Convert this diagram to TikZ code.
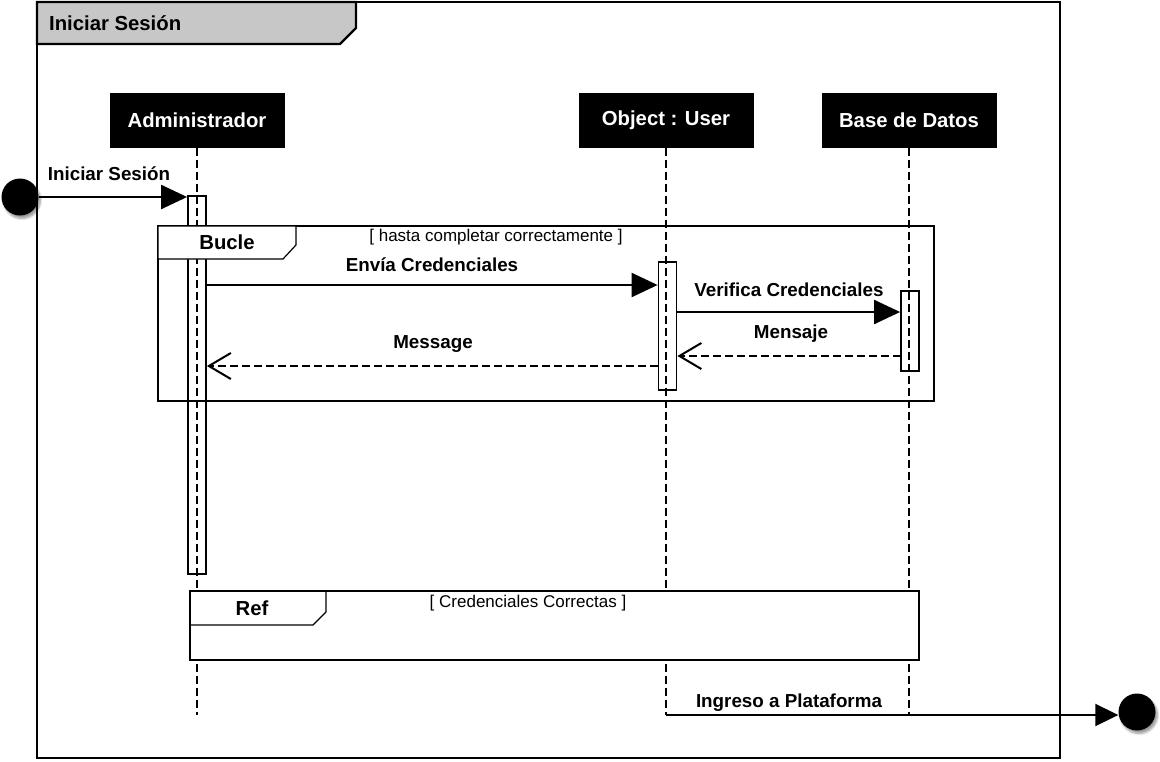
\documentclass[tikz,border=0pt]{standalone}
\usepackage{fontspec}
\setmainfont{Liberation Sans}
\usepackage{tikz}
\usetikzlibrary{arrows.meta}
\usetikzlibrary{shadows.blur}
\usetikzlibrary{positioning}
\tikzstyle{actor}=[draw=black,fill=black,text=white,inner sep=0,minimum width=174,minimum height=54,font=\fontsize{20.3}{23}\selectfont\bfseries]
\tikzstyle{life}=[draw,line width=2.4,dash pattern=on 8 off 4]
\tikzstyle{bar}=[draw,line width=1.8,rectangle,inner sep=0,minimum width=18]
\tikzstyle{msg}=[font=\fontsize{18.8}{21}\selectfont\bfseries,inner sep=0]
\tikzstyle{guard}=[font=\fontsize{17}{19}\selectfont,inner sep=0]
\tikzstyle{call}=[draw,line width=2.2,-{Triangle[length=26,width=24]}]
\tikzstyle{reply}=[draw,line width=2,dash pattern=on 8 off 4,-{Straight Barb[length=22,width=26,line width=2]}]
\tikzstyle{frag}=[draw,line width=1.2]
\tikzstyle{dot}=[circle,fill=black,minimum size=37,inner sep=0,blur shadow={shadow xshift=2,shadow yshift=-3,shadow blur steps=6}]

\begin{document}
\begin{tikzpicture}[x=1pt,y=-1pt]
\useasboundingbox (0,0) rectangle (1160,761);

	% marco
	\draw[line width=2.2] (37,2) rectangle (1060,758);
	\path[draw,line width=2.2,fill=black!22] (37,2) -- (356,2) -- (356,28) -- (340,44) -- (37,44) -- cycle;
	\node[font=\fontsize{20.3}{23}\selectfont\bfseries,anchor=west,inner sep=0] (titulo) at (49,23) {Iniciar Sesión};

	% lineas de vida
	\node[actor] (adm) at (197,120.5) {Administrador};
	\node[actor] (usr) at (666,120.5) {Object : User};
	\node[actor] (bd) at (909,120.5) {Base de Datos};

	\coordinate (admf) at (197,715);
	\coordinate (usrf) at (666,715);
	\coordinate (bdf) at (909,715);
	\path[life] (adm) -- (admf);
	\path[life] (usr) -- (usrf);
	\path[life] (bd) -- (bdf);

	\node[bar,minimum height=378] (admb) at (197,385) {};
	\node[bar,minimum height=128] (usrb) at (667.5,326) {};
	\node[bar,minimum height=80] (bdb) at (910,331) {};

	% inicio
	\node[dot] (ini) at (20,197) {};
	\path[call] (ini) -- (ini -| admb.west);
	\node[msg] (lini) at (109,174) {Iniciar Sesión};

	% bucle
	\path[frag] (158,226) rectangle (934,401);
	\path[frag,fill=white] (158,226) -- (296,226) -- (296,245) -- (283,259) -- (158,259) -- cycle;
	\node[font=\fontsize{20.3}{23}\selectfont\bfseries,inner sep=0] (bucle) at (227,242) {Bucle};
	\node[guard] (gbucle) at (496,237) {[ hasta completar correctamente ]};

	\coordinate (e1) at (206,285);
	\path[call] (e1) -- (e1 -| usrb.west);
	\node[msg] (lenv) at (432,265) {Envía Credenciales};

	\coordinate (v1) at (677,312);
	\path[call] (v1) -- (v1 -| bdb.west);
	\node[msg] (lver) at (789,290) {Verifica Credenciales};

	\coordinate (m1) at (901,356);
	\path[reply] (m1) -- (m1 -| usrb.east);
	\node[msg] (lmen) at (791,334) {Mensaje};

	\coordinate (r1) at (658,366);
	\path[reply] (r1) -- (r1 -| admb.east);
	\node[msg] (lmes) at (433,344) {Message};

	% ref
	\path[frag,fill=white] (190,591) rectangle (919,660);
	\path[frag] (190,591) -- (326,591) -- (326,612) -- (313,625) -- (190,625);
	\node[font=\fontsize{20.3}{23}\selectfont\bfseries,inner sep=0] (ref) at (252,608) {Ref};
	\node[guard] (gref) at (528,603) {[ Credenciales Correctas ]};

	% fin
	\node[dot] (fin) at (1137,712) {};
	\path[draw,line width=2,-{Triangle[length=23,width=22]}] (usrf) -- (usrf -| fin.west);
	\node[msg] (ling) at (789,703) {Ingreso a Plataforma};
\end{tikzpicture}
\end{document}
